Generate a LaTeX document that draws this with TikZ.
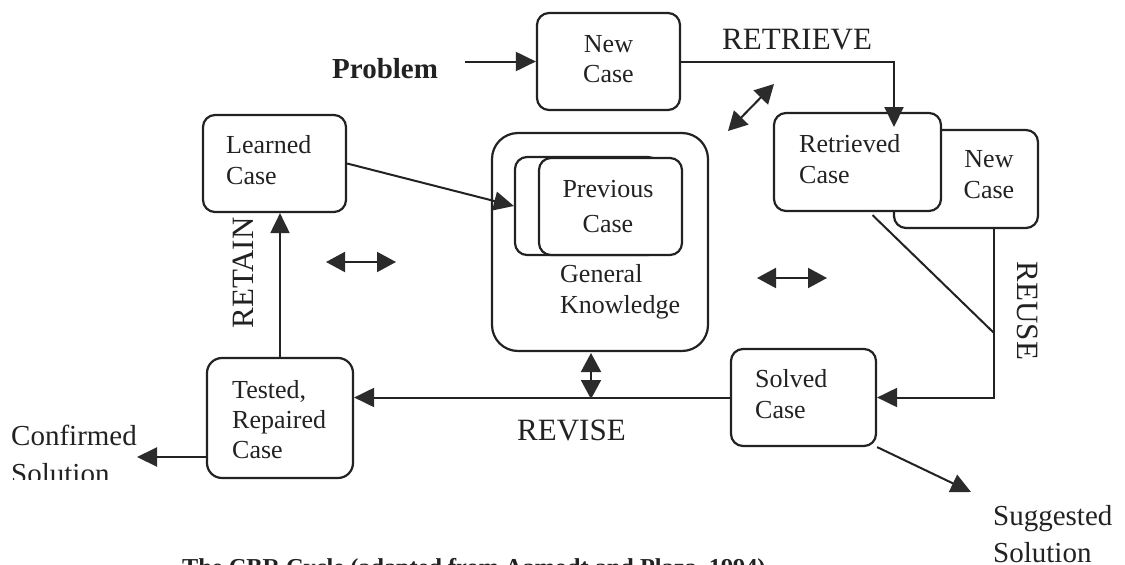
\documentclass[tikz,border=0pt]{standalone}
\usepackage{fontspec}
\setmainfont{Liberation Serif}
\usetikzlibrary{arrows.meta}
\definecolor{ink}{HTML}{222222}
\definecolor{headc}{HTML}{2b2b2b}
\begin{document}
\begin{tikzpicture}[x=1pt,y=-1pt,
  box/.style={draw=ink, line width=2.2pt, rounded corners=12pt, fill=white, inner sep=0pt},
  txt/.style={inner sep=0pt, font=\fontsize{26}{31}\selectfont, text=ink},
  big/.style={inner sep=0pt, font=\fontsize{31}{37}\selectfont, text=ink},
  lab/.style={inner sep=0pt, font=\fontsize{29}{34}\selectfont, text=ink},
  ln/.style={draw=ink, line width=2pt},
  arr/.style={ln, -{Triangle[length=20pt,width=19pt,color=headc]}},
  dbl/.style={ln, {Triangle[length=19pt,width=20pt,color=headc]}-{Triangle[length=19pt,width=20pt,color=headc]}}]
\useasboundingbox[fill=white] (0,0) rectangle (1125,565);

% boxes
\node[box, minimum width=216pt, minimum height=218pt, rounded corners=26pt] (gk) at (600,242) {};
\node[box, minimum width=145pt, minimum height=98pt] (prevback) at (587.5,206) {};
\node[box, minimum width=143pt, minimum height=97pt] (prevfront) at (610.5,206.5) {};
\node[box, minimum width=143pt, minimum height=97pt] (newcase) at (608.5,61.5) {};
\node[box, minimum width=143pt, minimum height=97pt] (learned) at (274.5,163.5) {};
\node[box, minimum width=144pt, minimum height=98pt] (newback) at (966,179) {};
\node[box, minimum width=167pt, minimum height=98pt] (retrieved) at (857.5,162) {};
\node[box, minimum width=145pt, minimum height=97pt] (solved) at (803.5,397.5) {};
\node[box, minimum width=146pt, minimum height=120pt, rounded corners=15pt] (tested) at (280,418) {};

% box texts
\node[txt, anchor=base] (t1) at (608.5,52) {New};
\node[txt, anchor=base] (t2) at (608.5,82) {Case};
\node[txt, anchor=base west] (t3) at (226,153) {Learned};
\node[txt, anchor=base west] (t4) at (226,184) {Case};
\node[txt, anchor=base west] (t5) at (799,152) {Retrieved};
\node[txt, anchor=base west] (t6) at (799,183) {Case};
\node[txt, anchor=base] (t7) at (989,167) {New};
\node[txt, anchor=base] (t8) at (989,198) {Case};
\node[txt, anchor=base] (t9) at (608,197) {Previous};
\node[txt, anchor=base] (t10) at (608,232) {Case};
\node[txt, anchor=base west] (t11) at (560,282) {General};
\node[txt, anchor=base west] (t12) at (560,313) {Knowledge};
\node[txt, anchor=base west] (t13) at (232,398) {Tested,};
\node[txt, anchor=base west] (t14) at (232,428) {Repaired};
\node[txt, anchor=base west] (t15) at (232,458) {Case};
\node[txt, anchor=base west] (t16) at (755,387) {Solved};
\node[txt, anchor=base west] (t17) at (755,418) {Case};

% labels
\node[inner sep=0pt, anchor=base west, text=ink, font=\bfseries\fontsize{29}{34}\selectfont] (problem) at (332,78) {Problem};
\node[big, anchor=base west] (retrieve) at (722,49) {RETRIEVE};
\node[big, anchor=base west] (revise) at (517,440) {REVISE};
\node[big, rotate=90] (retain) at (243,273) {RETAIN};
\node[big, rotate=-90] (reuse) at (1028,311) {REUSE};
\node[lab, anchor=base west] (sug1) at (993,525) {Suggested};
\node[lab, anchor=base west] (sug2) at (993,562) {Solution};
\begin{scope}
\clip (0,0) rectangle (300,479);
\node[lab, anchor=base west] (conf1) at (11,445) {Confirmed};
\node[lab, anchor=base west] (conf2) at (11,483) {Solution};
\end{scope}
\node[inner sep=0pt, anchor=base west, text=ink, font=\bfseries\fontsize{24.3}{29}\selectfont] (caption) at (182,575) {The CBR Cycle (adapted from Aamodt and Plaza, 1994)};

% coordinates
\coordinate (rin) at (894,127);
\coordinate (reusejoin) at (994,333);
\coordinate (conftip) at (137,457);
\coordinate (sugtip) at (971,492);
\coordinate (dla) at (326,262);
\coordinate (dlb) at (396,262);
\coordinate (dra) at (757,278);
\coordinate (drb) at (827,278);
\coordinate (dga) at (728,131);
\coordinate (dgb) at (774,84);
\coordinate (dva) at (591,353);
\coordinate (dvb) at (591,399);

% connectors
\draw[arr] (problem.east |- newcase.west) ++(27,0) -- (newcase.west);
\draw[arr] (newcase.east) -| (rin);
\draw[arr] (learned.east) -- (prevback.west);
\draw[arr] (tested.north) -- (tested.north |- learned.south);
\draw[arr] (solved.west) -- (solved.west -| tested.east);
\draw[arr] ([xshift=28pt]newback.south) |- (solved.east);
\draw[ln] ([xshift=15pt,yshift=-3pt]retrieved.south) -- (reusejoin);
\draw[arr] (solved.south east) -- (sugtip);
\draw[arr] (tested.west |- conftip) -- (conftip);
\draw[dbl] (dla) -- (dlb);
\draw[dbl] (dra) -- (drb);
\draw[dbl] (dga) -- (dgb);
\draw[dbl] (dva) -- (dvb);
\end{tikzpicture}
\end{document}
